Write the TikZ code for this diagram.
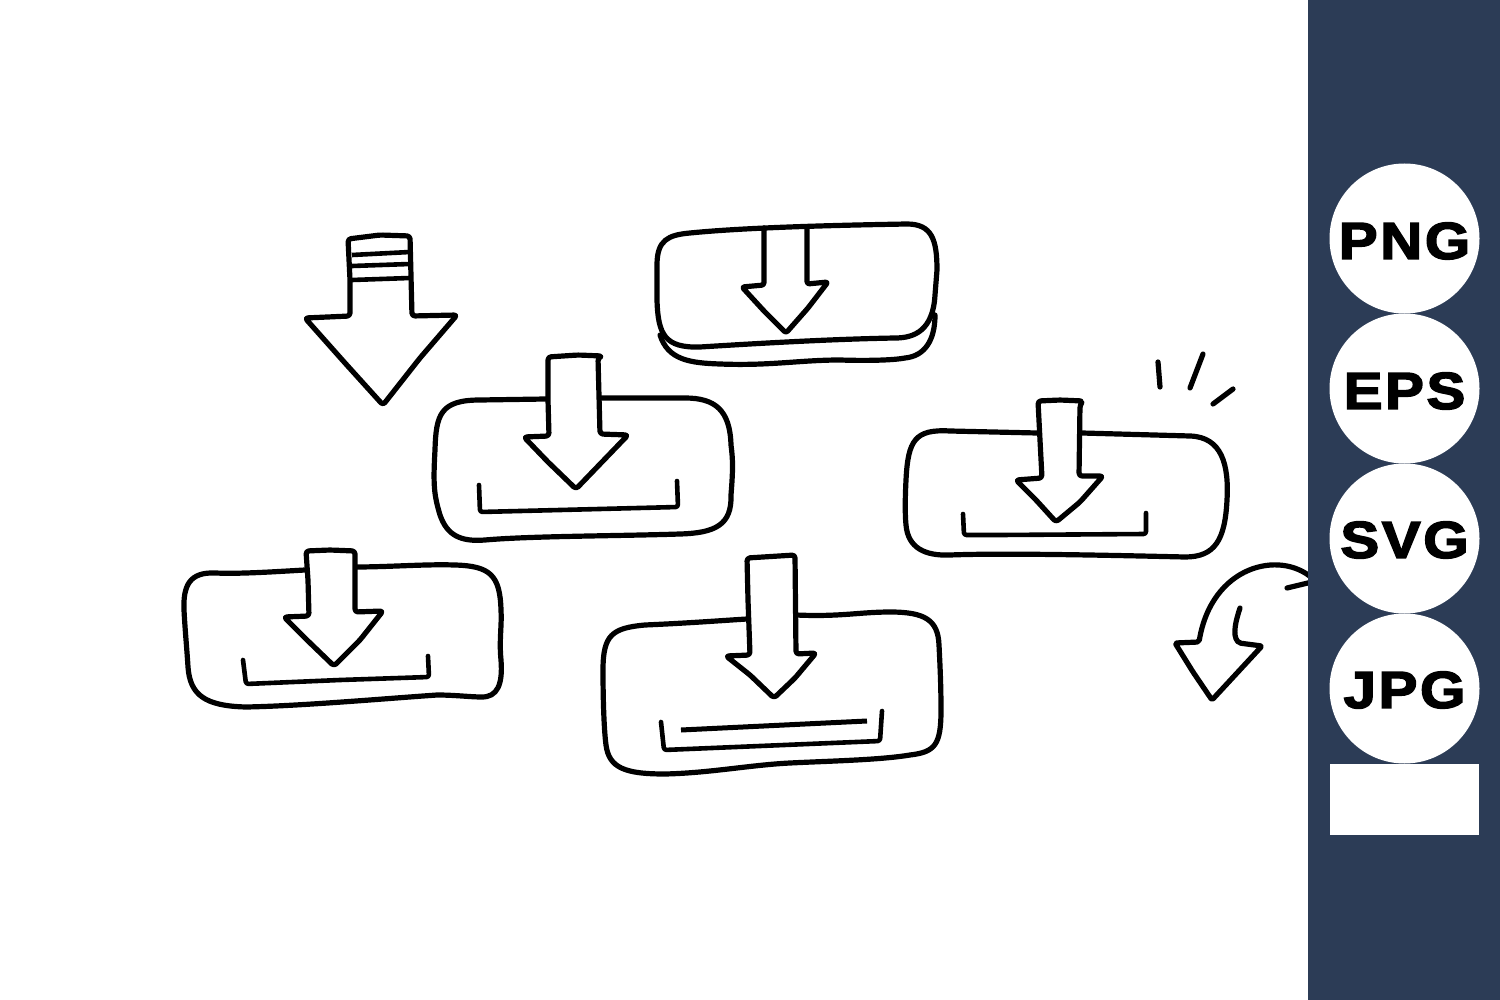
\documentclass[tikz,border=0pt]{standalone}
\usepackage{fontspec}
\newfontfamily\badgefont[FakeBold=3,FakeStretch=1.12,LetterSpace=5]{Liberation Sans Bold}
\definecolor{panelblue}{HTML}{2C3C56}
\tikzset{
  ink/.style={draw=black,line width=5.2pt,line cap=round,line join=round},
  thin ink/.style={ink,line width=4.6pt},
  arrowshape/.style={ink,fill=white,rounded corners=3pt},
  tray/.style={thin ink,rounded corners=2.5pt},
  disc/.style={circle,fill=white,minimum size=150pt,inner sep=0pt,text=black},
  disc text/.style={inner sep=0pt,font=\badgefont\fontsize{52}{52}\selectfont,text=black},
}
\begin{document}
\begin{tikzpicture}[x=1pt,y=-1pt]
\useasboundingbox (0,0) rectangle (1500,1000);
\fill[white] (0,0) rectangle (1500,1000);

% top-left arrow
\draw[arrowshape] (348,239) -- (380,235) -- (410,236) -- (412,316) -- (457,315) -- (420,358) -- (383,405) -- (345,363) -- (305,318) -- (350,316) -- (350,280) -- cycle;
\draw[thin ink,line cap=butt] (352,255) -- (410,252);
\draw[thin ink,line cap=butt] (352,266) -- (410,264);
\draw[thin ink,line cap=butt] (352,280) -- (410,278);

% top-middle stacked box
\draw[ink] (660,335) .. controls (668,360) and (690,363) .. (720,364) .. controls (770,366) and (800,360) .. (840,360) .. controls (870,361) and (895,360) .. (905,358) .. controls (925,356) and (935,340) .. (935,315);
\draw[ink] (907,224) .. controls (932,224) and (937,240) .. (937,270) -- (935,295) .. controls (933,330) and (915,338) .. (895,338) .. controls (840,339) and (780,342) .. (700,347) .. controls (665,348) and (658,335) .. (657,300) -- (657,265) .. controls (657,240) and (668,235) .. (690,233) .. controls (750,227) and (850,225) .. (907,224) -- cycle;
\draw[ink,rounded corners=2.5pt] (764,228) -- (764,285) -- (742,287) -- (764,311) -- (786,333) -- (808,308) -- (828,282) -- (807,284) -- (807,228);

% middle box
\draw[ink] (546,399) -- (480,400) .. controls (440,400) and (436,415) .. (435,450) .. controls (433,485) and (434,495) .. (440,515) .. controls (447,535) and (460,542) .. (485,540) .. controls (530,536) and (620,536) .. (680,534) .. controls (715,533) and (732,525) .. (731,495) .. controls (733,470) and (733,460) .. (731,445) .. controls (730,410) and (715,398) .. (685,398) -- (600,398);
\draw[arrowshape] (548,357) -- (578,355) -- (602,356) -- (598,358) -- (600,434) -- (628,435) -- (576,489) -- (548,462) -- (524,437) -- (549,436) -- (548,400) -- cycle;
\draw[tray] (479,485) -- (480,512) -- (560,510) -- (678,507) -- (677,481);

% lower-left box
\draw[ink] (305,570) .. controls (270,572) and (240,574) .. (215,573) .. controls (190,572) and (183,585) .. (184,610) .. controls (185,630) and (187,650) .. (188,667) .. controls (190,695) and (205,706) .. (246,707) .. controls (300,706) and (380,699) .. (437,695) .. controls (455,695) and (470,697) .. (482,697) .. controls (497,697) and (503,685) .. (501,660) .. controls (499,640) and (502,625) .. (501,610) .. controls (500,575) and (490,566) .. (455,565) .. controls (425,564) and (390,567) .. (355,567);
\draw[arrowshape] (306,551) -- (330,550) -- (355,551) -- (355,612) -- (383,611) -- (360,640) -- (334,666) -- (307,640) -- (284,617) -- (309,616) -- (308,580) -- cycle;
\draw[tray] (243,660) -- (246,684) -- (340,680) -- (429,677) -- (428,656);

% lower-middle box
\draw[ink] (747,619) .. controls (715,621) and (690,623) .. (645,625) .. controls (612,628) and (603,635) .. (603,670) .. controls (603,700) and (604,730) .. (606,745) .. controls (609,768) and (625,774) .. (665,774) .. controls (710,773) and (750,765) .. (790,763) .. controls (830,761) and (880,760) .. (910,755) .. controls (935,752) and (941,745) .. (941,710) .. controls (941,685) and (940,665) .. (939,645) .. controls (938,620) and (925,612) .. (890,612) .. controls (860,612) and (840,617) .. (796,615);
\draw[arrowshape] (747,558) -- (795,555) -- (796,654) -- (816,653) -- (795,678) -- (774,698) -- (750,675) -- (726,656) -- (750,655) -- (748,600) -- cycle;
\draw[tray] (661,722) -- (664,750) -- (880,741) -- (882,711);
\draw[black,line width=5pt] (681,730) -- (867,721);

% right box
\draw[ink] (1037,433) -- (950,431) .. controls (915,429) and (908,440) .. (906,480) .. controls (905,500) and (905,515) .. (906,525) .. controls (908,548) and (925,556) .. (950,555) .. controls (1000,553) and (1100,555) .. (1185,557) .. controls (1215,557) and (1225,540) .. (1227,500) .. controls (1229,465) and (1222,437) .. (1190,436) -- (1082,433);
\draw[arrowshape] (1038,401) -- (1060,400) -- (1083,401) -- (1080,405) -- (1079,476) -- (1103,476) -- (1080,502) -- (1056,522) -- (1036,500) -- (1016,480) -- (1042,478) -- (1040,440) -- cycle;
\draw[tray] (963,514) -- (964,535) -- (1000,535) -- (1146,534) -- (1146,513);

% sparks
\draw[ink] (1158,362) -- (1160,387);
\draw[ink] (1203,354) -- (1190,388);
\draw[ink] (1233,389) -- (1213,404);

% curved arrow
\draw[ink,rounded corners=2pt] (1312,578) .. controls (1280,550) and (1212,565) .. (1199,642) -- (1175,643) -- (1193,672) -- (1212,700) -- (1262,646) -- (1239,643) .. controls (1232,635) and (1236,620) .. (1240,608);
\draw[ink] (1287,588) -- (1312,582);

% right panel
\fill[panelblue] (1308,0) rectangle (1500,1000);
\node[disc] (png) at (1404.5,238.5) {};
\node[disc] (eps) at (1404.5,388.5) {};
\node[disc] (svg) at (1404.5,538.5) {};
\node[disc] (jpg) at (1404.5,688.5) {};
\node[disc text] (pngt) at (1404.5,241) {PNG};
\node[disc text] (epst) at (1404.5,391) {EPS};
\node[disc text] (svgt) at (1404.5,540) {SVG};
\node[disc text] (jpgt) at (1404.5,690) {JPG};
\fill[white] (1330,764) rectangle (1479,835);
\end{tikzpicture}
\end{document}
